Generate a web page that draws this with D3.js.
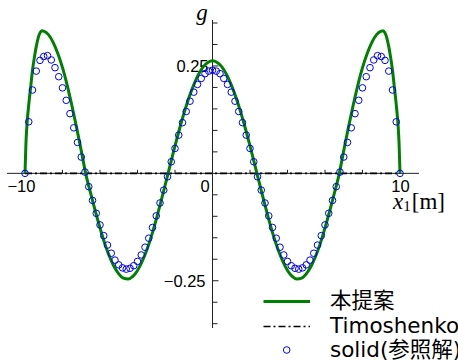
<!DOCTYPE html>
<html>
<head>
<meta charset="utf-8">
<script src="https://cdn.jsdelivr.net/npm/d3@7"></script>
<style>
  body { margin: 0; background: #fff; }
  svg { display: block; }
</style>
</head>
<body>
<main></main>
<script>
// proposed model (green line)
var propX = [-10, -9.95, -9.9, -9.8, -9.7, -9.6, -9.5, -9.4, -9.3, -9.2, -9.1, -9.0,
  -8.75, -8.5, -8.25, -8.0, -7.75, -7.5, -7.25, -7.0, -6.75, -6.5, -6.25, -6.0,
  -5.75, -5.5, -5.25, -5.0, -4.75, -4.5, -4.25, -4.0, -3.75, -3.5, -3.25, -3.0,
  -2.75, -2.5, -2.25, -2.0, -1.75, -1.5, -1.25, -1.0, -0.75, -0.5, -0.25, 0,
  0.25, 0.5, 0.75, 1.0, 1.25, 1.5, 1.75, 2.0, 2.25, 2.5, 2.75, 3.0,
  3.25, 3.5, 3.75, 4.0, 4.25, 4.5, 4.75, 5.0, 5.25, 5.5, 5.75, 6.0,
  6.25, 6.5, 6.75, 7.0, 7.25, 7.5, 7.75, 8.0, 8.25, 8.5, 8.75, 9.0,
  9.1, 9.2, 9.3, 9.4, 9.5, 9.6, 9.7, 9.8, 9.9, 9.95, 10];
var propG = [0, 0.07, 0.11, 0.16, 0.20, 0.24, 0.27, 0.295, 0.315, 0.327, 0.332, 0.331,
  0.323, 0.305, 0.279, 0.246, 0.205, 0.158, 0.107, 0.053, -0.003, -0.046, -0.088, -0.127,
  -0.163, -0.193, -0.217, -0.234, -0.244, -0.246, -0.240, -0.226, -0.205, -0.178, -0.145, -0.107,
  -0.066, -0.023, 0.021, 0.064, 0.105, 0.143, 0.177, 0.206, 0.230, 0.248, 0.258, 0.262,
  0.258, 0.248, 0.230, 0.206, 0.177, 0.143, 0.105, 0.064, 0.021, -0.023, -0.066, -0.107,
  -0.145, -0.178, -0.205, -0.226, -0.240, -0.246, -0.244, -0.234, -0.217, -0.193, -0.163, -0.127,
  -0.088, -0.046, -0.003, 0.053, 0.107, 0.158, 0.205, 0.246, 0.279, 0.305, 0.323, 0.331,
  0.332, 0.327, 0.315, 0.295, 0.27, 0.24, 0.20, 0.16, 0.11, 0.07, 0];

// Timoshenko beam (dash-dot), stays on zero
var timoX = [-10, 10];
var timoG = [0, 0];

// solid reference solution (circles)
var solidX = [-10, -9.8, -9.6, -9.4, -9.2, -9.0, -8.8, -8.6, -8.4, -8.2,
  -8.0, -7.8, -7.6, -7.4, -7.2, -7.0, -6.8, -6.6, -6.4, -6.2,
  -6.0, -5.8, -5.6, -5.4, -5.2, -5.0, -4.8, -4.6, -4.4, -4.2,
  -4.0, -3.8, -3.6, -3.4, -3.2, -3.0, -2.8, -2.6, -2.4, -2.2,
  -2.0, -1.8, -1.6, -1.4, -1.2, -1.0, -0.8, -0.6, -0.4, -0.2,
  0, 0.2, 0.4, 0.6, 0.8, 1.0, 1.2, 1.4, 1.6, 1.8,
  2.0, 2.2, 2.4, 2.6, 2.8, 3.0, 3.2, 3.4, 3.6, 3.8,
  4.0, 4.2, 4.4, 4.6, 4.8, 5.0, 5.2, 5.4, 5.6, 5.8,
  6.0, 6.2, 6.4, 6.6, 6.8, 7.0, 7.2, 7.4, 7.6, 7.8,
  8.0, 8.2, 8.4, 8.6, 8.8, 9.0, 9.2, 9.4, 9.6, 9.8, 10];
var solidG = [0, 0.120, 0.194, 0.238, 0.263, 0.272, 0.274, 0.264, 0.246, 0.225,
  0.199, 0.170, 0.139, 0.106, 0.072, 0.038, 0.003, -0.031, -0.063, -0.093,
  -0.120, -0.145, -0.167, -0.186, -0.202, -0.213, -0.220, -0.223, -0.221, -0.215,
  -0.205, -0.190, -0.172, -0.151, -0.126, -0.099, -0.069, -0.039, -0.008, 0.027,
  0.058, 0.089, 0.118, 0.144, 0.168, 0.189, 0.207, 0.221, 0.232, 0.238,
  0.240, 0.238, 0.232, 0.221, 0.207, 0.189, 0.168, 0.144, 0.118, 0.089,
  0.058, 0.027, -0.008, -0.039, -0.069, -0.099, -0.126, -0.151, -0.172, -0.190,
  -0.205, -0.215, -0.221, -0.223, -0.220, -0.213, -0.202, -0.186, -0.167, -0.145,
  -0.120, -0.093, -0.063, -0.031, 0.003, 0.038, 0.072, 0.106, 0.139, 0.170,
  0.199, 0.225, 0.246, 0.264, 0.274, 0.272, 0.263, 0.238, 0.194, 0.120, 0];

var xTicks = [-10, -8, -6, -4, -2, 0, 2, 4, 6, 8, 10];
var xLabels = [-10, 0, 10];
var yTicks = [-0.35, -0.3, -0.25, -0.2, -0.15, -0.1, -0.05, 0.05, 0.1, 0.15, 0.2, 0.25, 0.3, 0.35];
var yLabels = [0.25, -0.25];
var legendNames = ['本提案', 'Timoshenko', 'solid(参照解)'];

var width = 458, height = 360;
var axisColor = '#222';
var green = '#008000';
var blue = '#0000ff';

var svg = d3.select('main').append('svg')
  .attr('width', width)
  .attr('height', height);

var x = d3.scaleLinear().domain([-10, 10]).range([25, 400]);
var y = d3.scaleLinear().domain([-0.35, 0.35]).range([323.7, 23.0]);

var minus = function(v) { return String(v).replace('-', '\u2212'); };

// axes
svg.append('line')
  .attr('x1', 7).attr('x2', 419)
  .attr('y1', y(0)).attr('y2', y(0))
  .attr('stroke', axisColor).attr('stroke-width', 1);
svg.append('line')
  .attr('x1', x(0)).attr('x2', x(0))
  .attr('y1', 20).attr('y2', 328)
  .attr('stroke', axisColor).attr('stroke-width', 1);

svg.selectAll('.xtick').data(xTicks).enter().append('line')
  .attr('class', 'xtick')
  .attr('x1', function(d) { return x(d); })
  .attr('x2', function(d) { return x(d); })
  .attr('y1', y(0))
  .attr('y2', function(d) { return y(0) - (d % 10 === 0 ? 5.5 : 3.5); })
  .attr('stroke', axisColor).attr('stroke-width', 1);

svg.selectAll('.ytick').data(yTicks).enter().append('line')
  .attr('class', 'ytick')
  .attr('x1', x(0))
  .attr('x2', function(d) { return x(0) + (Math.abs(Math.abs(d) - 0.25) < 1e-6 ? 6 : 5); })
  .attr('y1', function(d) { return y(d); })
  .attr('y2', function(d) { return y(d); })
  .attr('stroke', axisColor).attr('stroke-width', 1);

var xOff = { '-10': -3.6, '0': -7.5, '10': 0.5 };
svg.selectAll('.xlab').data(xLabels).enter().append('text')
  .attr('class', 'xlab')
  .attr('x', function(d) { return x(d) + xOff[d]; })
  .attr('y', 192.3)
  .attr('text-anchor', 'middle')
  .style('font-family', 'Liberation Sans, Arial, sans-serif')
  .style('font-size', '16.5px')
  .text(minus);

svg.selectAll('.ylab').data(yLabels).enter().append('text')
  .attr('class', 'ylab')
  .attr('x', function(d) { return d > 0 ? 208.5 : 205.5; })
  .attr('y', function(d) { return y(d) + 6; })
  .attr('text-anchor', 'end')
  .style('font-family', 'Liberation Sans, Arial, sans-serif')
  .style('font-size', '16.5px')
  .text(minus);

// axis titles
svg.append('text')
  .attr('x', 202).attr('y', 20)
  .attr('text-anchor', 'middle')
  .style('font-family', 'Liberation Serif, Times New Roman, serif')
  .style('font-style', 'italic')
  .style('font-size', '23px')
  .text('g');

var xt = svg.append('text')
  .attr('x', 393).attr('y', 209)
  .style('font-family', 'Liberation Serif, Times New Roman, serif')
  .style('font-size', '23px');
xt.append('tspan').style('font-style', 'italic').text('x');
xt.append('tspan').attr('dy', 2).style('font-size', '15px').text('1');
xt.append('tspan').attr('dy', -2).attr('dx', 1).text('[m]');

// series
var line = d3.line()
  .x(function(d) { return x(d[0]); })
  .y(function(d) { return y(d[1]); });

svg.append('path')
  .datum(d3.zip(timoX, timoG))
  .attr('d', line)
  .attr('fill', 'none')
  .attr('stroke', '#000')
  .attr('stroke-width', 1.6)
  .attr('stroke-dasharray', '7,3,2,3');

svg.append('path')
  .datum(d3.zip(propX, propG))
  .attr('d', line.curve(d3.curveMonotoneX))
  .attr('fill', 'none')
  .attr('stroke', green)
  .attr('stroke-width', 3);

svg.selectAll('.solid').data(d3.zip(solidX, solidG)).enter().append('circle')
  .attr('class', 'solid')
  .attr('cx', function(d) { return x(d[0]); })
  .attr('cy', function(d) { return y(d[1]); })
  .attr('r', 3.3)
  .attr('fill', 'none')
  .attr('stroke', blue)
  .attr('stroke-width', 1);

// legend
var lg = svg.append('g');
var rows = [301.5, 326.5, 350];
lg.append('line')
  .attr('x1', 263.5).attr('x2', 310).attr('y1', rows[0]).attr('y2', rows[0])
  .attr('stroke', green).attr('stroke-width', 3);
lg.append('line')
  .attr('x1', 263.5).attr('x2', 310).attr('y1', rows[1]).attr('y2', rows[1])
  .attr('stroke', '#000').attr('stroke-width', 1.6)
  .attr('stroke-dasharray', '7,3,2,3');
lg.append('circle')
  .attr('cx', 286.7).attr('cy', rows[2]).attr('r', 3.3)
  .attr('fill', 'none').attr('stroke', blue).attr('stroke-width', 1);

lg.selectAll('text').data(legendNames).enter().append('text')
  .attr('x', 330)
  .attr('y', function(d, i) { return rows[i] + 6.5; })
  .style('font-family', 'DejaVu Sans, Noto Sans CJK JP, sans-serif')
  .style('font-size', '21.5px')
  .text(function(d) { return d; });
</script>
</body>
</html>
